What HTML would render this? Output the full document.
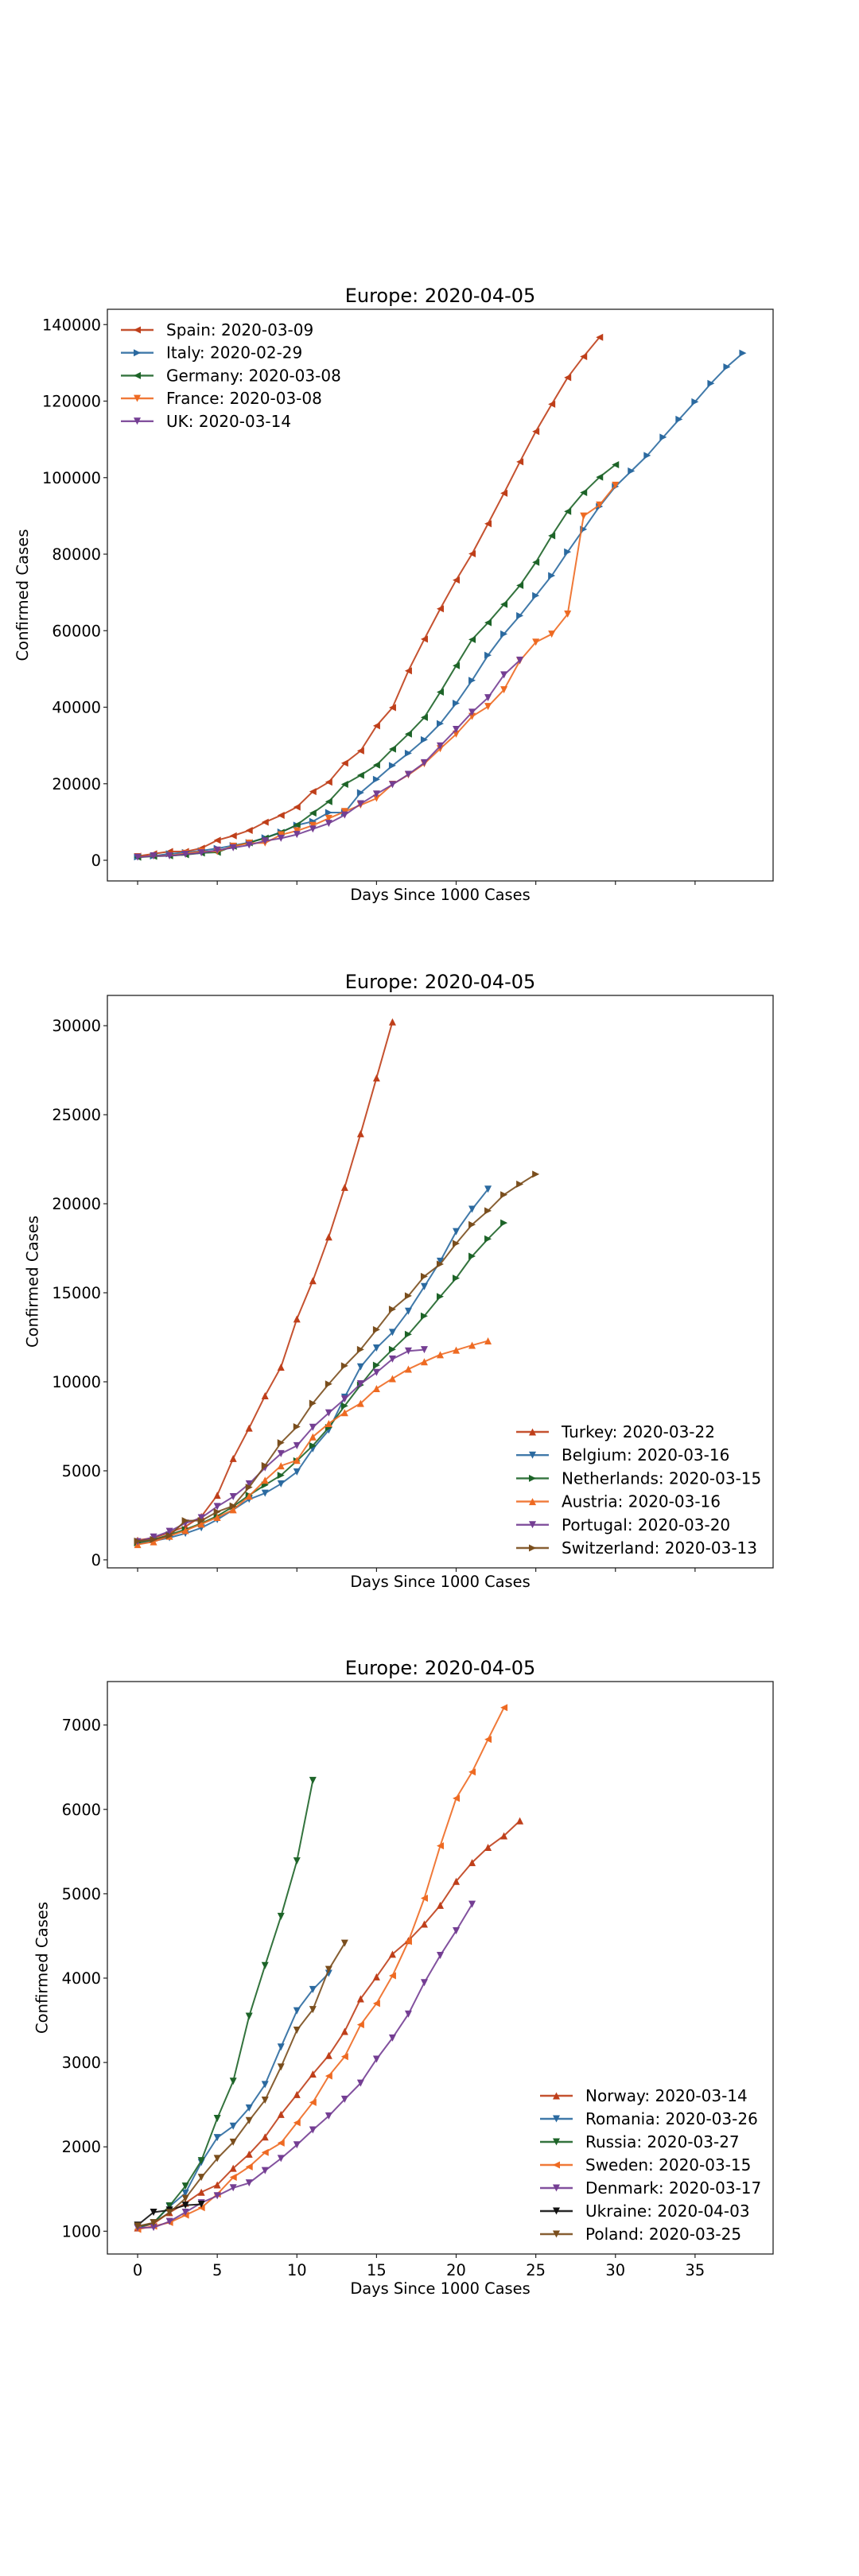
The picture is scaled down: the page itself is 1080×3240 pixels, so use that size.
<!DOCTYPE html>
<html><head><meta charset="utf-8"><style>
html,body{margin:0;padding:0;background:#fff;}
svg{display:block;font-family:"DejaVu Sans","Liberation Sans",sans-serif;}
</style></head><body>
<svg id="fig" width="1080" height="3240" viewBox="0 0 1080 3240" xmlns="http://www.w3.org/2000/svg"></svg>
<script>
// ---- data ----
const xTicks = [0,5,10,15,20,25,30,35];
const ticks1 = [0,20000,40000,60000,80000,100000,120000,140000];
const ticks2 = [0,5000,10000,15000,20000,25000,30000];
const ticks3 = [1000,2000,3000,4000,5000,6000,7000];

const names1 = ["Spain: 2020-03-09","Italy: 2020-02-29","Germany: 2020-03-08","France: 2020-03-08","UK: 2020-03-14"];
const spain = [1073,1695,2277,2277,3146,5232,6391,7798,9942,11748,13910,17963,20410,25374,28603,35136,39885,49515,57786,65719,73235,80110,87956,95923,104118,112065,119199,126168,131646,136675];
const italy = [888,1128,1694,2036,2502,3089,3858,4636,5883,7375,9172,10149,12462,12462,17660,21157,24747,27980,31506,35713,41035,47021,53578,59138,63927,69176,74386,80589,86498,92472,97689,101739,105792,110574,115242,119827,124632,128948,132547];
const germany = [795,1040,1176,1457,1908,2078,3675,4585,5795,7272,9257,12327,15320,19848,22213,24873,29056,32986,37323,43938,50871,57695,62095,66885,71808,77872,84794,91159,96092,100123,103374];
const france = [949,1126,1212,1787,2284,2284,3667,4480,4513,6650,7699,9105,10947,12726,14431,16176,19856,22304,25233,29155,32964,37575,40174,44550,52128,56989,59105,64338,89953,92839,98010];
const uk = [798,1144,1145,1551,1960,2642,3277,3983,5062,5741,6726,8164,9640,11812,14745,17312,19780,22453,25481,29865,34173,38689,42477,48436,52279];

const names2 = ["Turkey: 2020-03-22","Belgium: 2020-03-16","Netherlands: 2020-03-15","Austria: 2020-03-16","Portugal: 2020-03-20","Switzerland: 2020-03-13"];
const turkey = [1100,1236,1529,1872,2433,3629,5698,7402,9217,10827,13531,15679,18135,20921,23934,27069,30217];
const belgium = [886,1058,1243,1486,1795,2257,2815,3401,3743,4269,4937,6235,7284,9134,10836,11899,12775,13964,15348,16770,18431,19691,20814];
const netherlands = [959,1135,1413,1705,2051,2460,2994,3631,4204,4749,5560,6412,7431,8647,9819,10930,11817,12667,13696,14788,15821,17053,18026,18926];
const austria = [860,1018,1332,1646,2013,2388,2814,3582,4474,5283,5588,6909,7657,8271,8788,9618,10180,10711,11129,11524,11781,12051,12297];
const portugal = [1020,1280,1600,2060,2362,2995,3544,4268,5170,5962,6408,7443,8251,9034,9886,10524,11278,11730,11800];
const switzerland = [1050,1139,1359,2200,2200,2700,3028,4075,5294,6575,7474,8795,9877,10897,11811,12928,14076,14829,15922,16605,17768,18827,19606,20505,21100,21657];

const names3 = ["Norway: 2020-03-14","Romania: 2020-03-26","Russia: 2020-03-27","Sweden: 2020-03-15","Denmark: 2020-03-17","Ukraine: 2020-04-03","Poland: 2020-03-25"];
const norway = [1040,1090,1221,1333,1463,1550,1746,1914,2118,2385,2621,2863,3084,3369,3755,4015,4284,4445,4641,4863,5147,5370,5550,5687,5865];
const romania = [1040,1100,1292,1452,1815,2109,2245,2460,2738,3183,3613,3864,4057];
const russia = [1050,1100,1300,1534,1836,2337,2777,3548,4149,4731,5389,6343];
const sweden = [1022,1060,1103,1190,1279,1439,1639,1763,1934,2046,2286,2526,2840,3069,3447,3700,4028,4435,4947,5568,6131,6443,6830,7206];
const denmark = [1040,1044,1115,1225,1337,1420,1514,1572,1718,1862,2023,2200,2366,2564,2755,3039,3290,3573,3946,4269,4561,4875];
const ukraine = [1072,1225,1251,1308,1319];
const poland = [1060,1100,1221,1389,1638,1862,2055,2311,2554,2946,3383,3627,4102,4413];

// ---- styling ----
const C = {red:"#bf3f1a",blue:"#2b6aa0",green:"#1d6428",orange:"#ee6a22",purple:"#743e93",brown:"#7a4e1d",black:"#111111"};
const NS="http://www.w3.org/2000/svg";
const fig=document.getElementById('fig');
function mk(tag,attrs,parent){const e=document.createElementNS(NS,tag);for(const k in attrs)e.setAttribute(k,attrs[k]);(parent||fig).appendChild(e);return e;}

const X0=135, X1=972, XMIN=-1.9, XMAX=39.9;
function xs(v){return X0+(v-XMIN)/(XMAX-XMIN)*(X1-X0);}

function marker(g,type,x,y,col){
  const s=4.5;let p;
  if(type==='<')p=[[x-s,y],[x+s,y-s],[x+s,y+s]];
  else if(type==='>')p=[[x+s,y],[x-s,y-s],[x-s,y+s]];
  else if(type==='^')p=[[x,y-s],[x-s,y+s],[x+s,y+s]];
  else p=[[x,y+s],[x-s,y-s],[x+s,y-s]];
  const m=mk('polygon',{points:p.map(q=>q.join(',')).join(' '),fill:col},g);
  
  
}

function chart(id,top,bot,ymin,ymax,yticks,showX,series,legend){
  const g=mk('g',{});
  
  
  const ys=v=>bot-(v-ymin)/(ymax-ymin)*(bot-top);
  const t=mk('text',{x:(X0+X1)/2,y:top-9,'text-anchor':'middle','font-size':'24'},g);
  t.textContent='Europe: 2020-04-05';
  
  
  series.forEach(s=>{
    const sg=mk('g',{},g);
    
    
    const pts=s.data.map((v,i)=>xs(i).toFixed(2)+','+ys(v).toFixed(2)).join(' ');
    const pl=mk('polyline',{points:pts,fill:'none',stroke:s.col,'stroke-width':2,'stroke-opacity':0.9,'stroke-linejoin':'round'},sg);
    
    
    s.data.forEach((v,i)=>marker(sg,s.m,xs(i),ys(v),s.col));
  });
  const fr=mk('rect',{x:X0,y:top,width:X1-X0,height:bot-top,fill:'none',stroke:'#222','stroke-width':1.3},g);
  
  
  yticks.forEach(v=>{
    const y=ys(v);
    mk('line',{x1:X0-5,x2:X0,y1:y,y2:y,stroke:'#222','stroke-width':1.2},g);
    const tl=mk('text',{x:X0-8,y:y+7,'text-anchor':'end','font-size':'19.4'},g);
    tl.textContent=String(v);
    
    
  });
  let lblW=0;yticks.forEach(v=>{lblW=Math.max(lblW,String(v).length);});
  xTicks.forEach(v=>{
    const x=xs(v);
    mk('line',{x1:x,x2:x,y1:bot,y2:bot+5,stroke:'#222','stroke-width':1.2},g);
    if(showX){
      const tl=mk('text',{x:x,y:bot+27,'text-anchor':'middle','font-size':'19.4'},g);
      tl.textContent=String(v);
      
      
    }
  });
  const xl=mk('text',{x:(X0+X1)/2,y:showX?bot+50:bot+24,'text-anchor':'middle','font-size':'19.4'},g);
  xl.textContent='Days Since 1000 Cases';
  
  
  const yc=(top+bot)/2, yx=X0-16-lblW*12.35-10;
  const yl=mk('text',{x:yx,y:yc,'text-anchor':'middle','font-size':'19.6',transform:'rotate(-90 '+yx+' '+yc+')'},g);
  yl.textContent='Confirmed Cases';
  
  
  const lg=mk('g',{},g);
  
  
  series.forEach((s,i)=>{
    const y=legend.y+i*legend.dy;
    const eg=mk('g',{},lg);
    
    
    mk('line',{x1:legend.x,x2:legend.x+41,y1:y,y2:y,stroke:s.col,'stroke-width':2.4,'stroke-opacity':0.9},eg);
    marker(eg,s.m,legend.x+20.5,y,s.col);
    const tx=mk('text',{x:legend.x+57,y:y+7,'font-size':'20'},eg);
    tx.textContent=s.name;
  });
}

chart('chart-big-five',389,1108,-5400,144000,ticks1,false,[
  {key:'spain',name:names1[0],data:spain,col:C.red,m:'<'},
  {key:'italy',name:names1[1],data:italy,col:C.blue,m:'>'},
  {key:'germany',name:names1[2],data:germany,col:C.green,m:'<'},
  {key:'france',name:names1[3],data:france,col:C.orange,m:'v'},
  {key:'uk',name:names1[4],data:uk,col:C.purple,m:'v'}],{x:152,y:415,dy:28.7});

chart('chart-mid',1252,1972,-450,31700,ticks2,false,[
  {key:'turkey',name:names2[0],data:turkey,col:C.red,m:'^'},
  {key:'belgium',name:names2[1],data:belgium,col:C.blue,m:'v'},
  {key:'netherlands',name:names2[2],data:netherlands,col:C.green,m:'>'},
  {key:'austria',name:names2[3],data:austria,col:C.orange,m:'^'},
  {key:'portugal',name:names2[4],data:portugal,col:C.purple,m:'v'},
  {key:'switzerland',name:names2[5],data:switzerland,col:C.brown,m:'>'}],{x:649,y:1801,dy:29.2});

chart('chart-small',2115,2835,730,7515,ticks3,true,[
  {key:'norway',name:names3[0],data:norway,col:C.red,m:'^'},
  {key:'romania',name:names3[1],data:romania,col:C.blue,m:'v'},
  {key:'russia',name:names3[2],data:russia,col:C.green,m:'v'},
  {key:'sweden',name:names3[3],data:sweden,col:C.orange,m:'<'},
  {key:'denmark',name:names3[4],data:denmark,col:C.purple,m:'v'},
  {key:'ukraine',name:names3[5],data:ukraine,col:C.black,m:'v'},
  {key:'poland',name:names3[6],data:poland,col:C.brown,m:'v'}],{x:679,y:2636,dy:29});
</script>
</body></html>
